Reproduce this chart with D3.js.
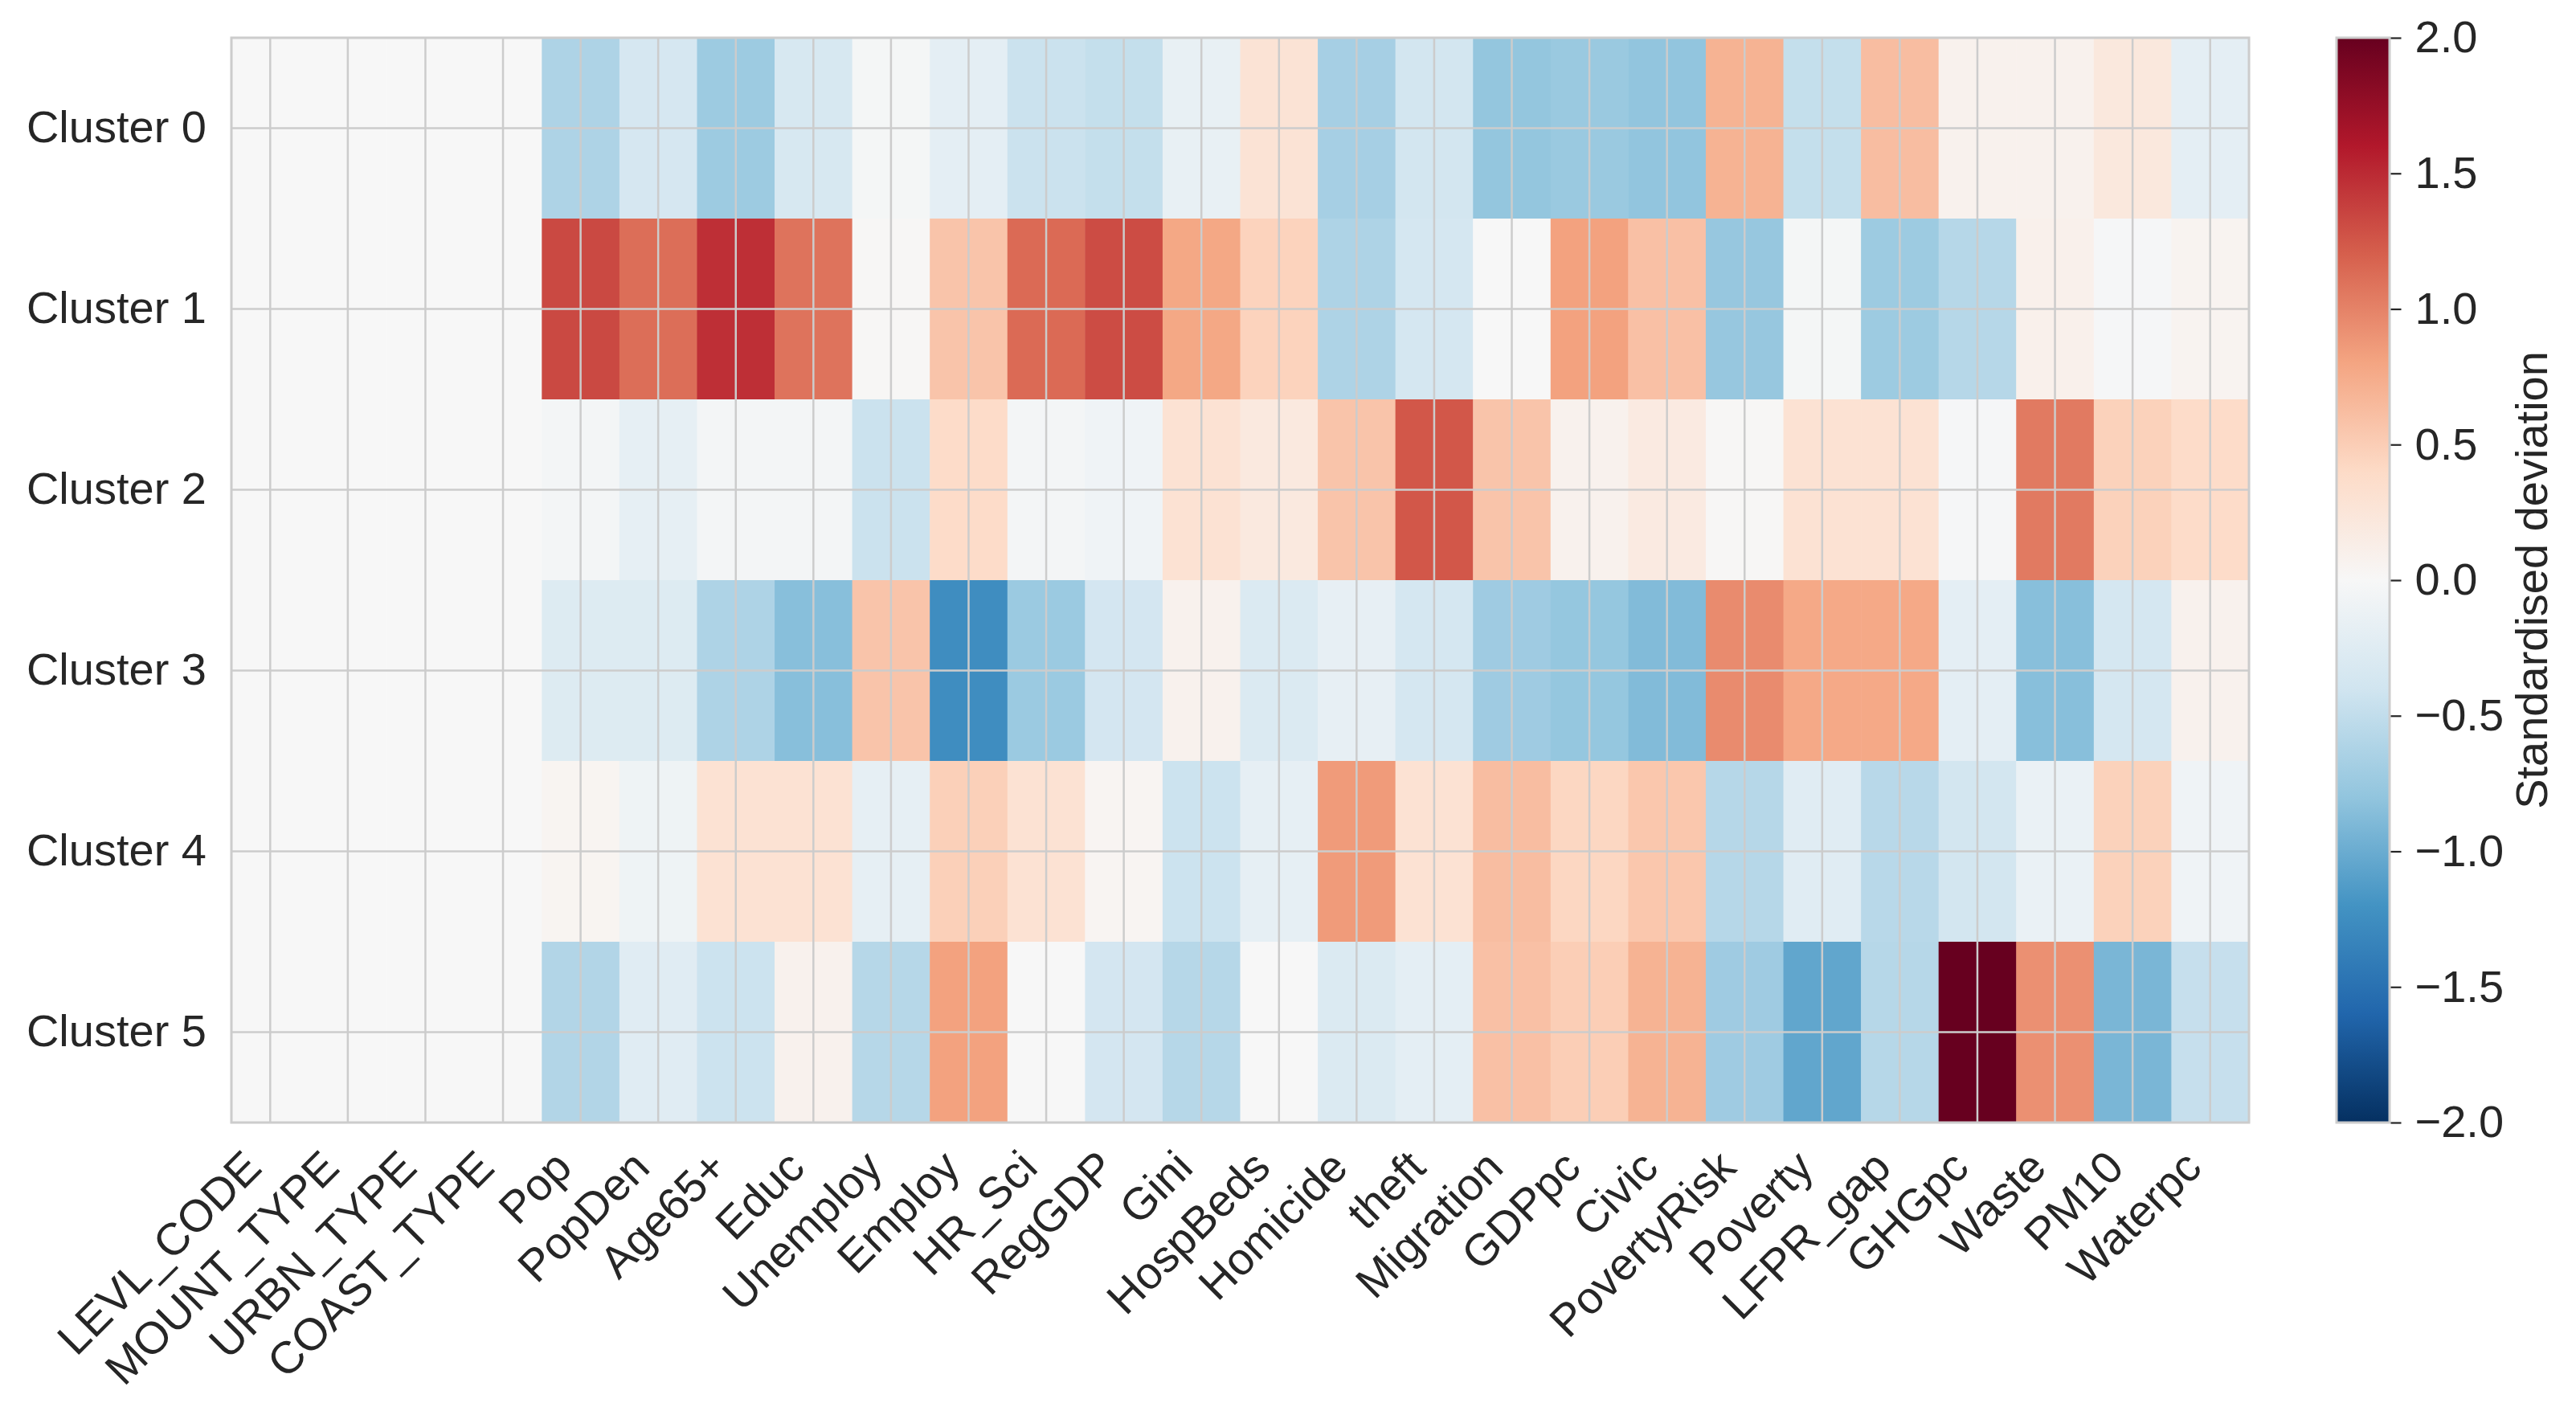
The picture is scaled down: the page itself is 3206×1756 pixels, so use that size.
<!DOCTYPE html>
<html>
<head>
<meta charset="utf-8">
<script src="https://cdn.jsdelivr.net/npm/d3@7"></script>
<style>
  body { margin: 0; background: #ffffff; }
  text { font-family: "Liberation Sans", Arial, sans-serif; fill: #262626; }
</style>
</head>
<body>
<script>
// chart data (standardised deviation of each feature per cluster)
var clusters = ["Cluster 0", "Cluster 1", "Cluster 2", "Cluster 3", "Cluster 4", "Cluster 5"];
var features = ["LEVL_CODE", "MOUNT_TYPE", "URBN_TYPE", "COAST_TYPE", "Pop", "PopDen", "Age65+", "Educ",
    "Unemploy", "Employ", "HR_Sci", "RegGDP", "Gini", "HospBeds", "Homicide", "theft", "Migration",
    "GDPpc", "Civic", "PovertyRisk", "Poverty", "LFPR_gap", "GHGpc", "Waste", "PM10", "Waterpc"];

var cluster0 = [0, 0, 0, 0, -0.62, -0.35, -0.73, -0.34, -0.03, -0.2, -0.44, -0.48, -0.16, 0.28, -0.67,
    -0.38, -0.79, -0.75, -0.8, 0.7, -0.48, 0.62, 0.08, 0.08, 0.22, -0.2];
var cluster1 = [0, 0, 0, 0, 1.33, 1.12, 1.47, 1.09, 0.02, 0.57, 1.14, 1.31, 0.78, 0.46, -0.62,
    -0.36, 0, 0.82, 0.6, -0.77, -0.03, -0.73, -0.57, 0.1, -0.02, 0.06];
var cluster2 = [0, 0, 0, 0, -0.04, -0.18, -0.04, -0.04, -0.44, 0.38, -0.04, -0.08, 0.3, 0.2, 0.57,
    1.25, 0.57, 0.08, 0.18, 0.02, 0.3, 0.3, -0.02, 1.05, 0.47, 0.38];
var cluster3 = [0, 0, 0, 0, -0.27, -0.27, -0.62, -0.85, 0.57, -1.25, -0.74, -0.37, 0.08, -0.3, -0.17,
    -0.36, -0.72, -0.78, -0.88, 0.95, 0.77, 0.77, -0.2, -0.85, -0.36, 0.08];
var cluster4 = [0, 0, 0, 0, 0.05, -0.1, 0.3, 0.3, -0.18, 0.48, 0.3, 0.04, -0.43, -0.18, 0.86,
    0.3, 0.62, 0.43, 0.55, -0.57, -0.24, -0.56, -0.38, -0.14, 0.47, -0.08];
var cluster5 = [0, 0, 0, 0, -0.6, -0.24, -0.43, 0.08, -0.57, 0.82, 0, -0.37, -0.57, 0, -0.3,
    -0.2, 0.6, 0.5, 0.7, -0.72, -1.05, -0.57, 2.3, 0.92, -0.92, -0.47];

var clusterValues = [cluster0, cluster1, cluster2, cluster3, cluster4, cluster5];
var colorbarTicks = [-2, -1.5, -1, -0.5, 0, 0.5, 1, 1.5, 2];

// RdBu_r palette stops
var paletteDomain = [-2, -1.6, -1.2, -0.8, -0.4, 0, 0.4, 0.8, 1.2, 1.6, 2];
var paletteColors = ["#053061", "#2166ac", "#4393c3", "#92c5de", "#d1e5f0", "#f7f7f7",
    "#fddbc7", "#f4a582", "#d6604d", "#b2182b", "#67001f"];

// define window size
var width = 3206,
    height = 1756;

var svg = d3.select("body")
    .append("svg")
    .attr("width", width)
    .attr("height", height);

// plot area edges
var plotLeft = 288, plotRight = 2799, plotTop = 47, plotBottom = 1397;

var x = d3.scaleBand().domain(features).range([plotLeft, plotRight]);
var y = d3.scaleBand().domain(clusters).range([plotTop, plotBottom]);

var color = d3.scaleLinear()
    .domain(paletteDomain)
    .range(paletteColors)
    .clamp(true);

// flatten rows into cells
var cells = [];
clusterValues.forEach(function(row, i){
    row.forEach(function(v, j){
        cells.push({cluster: clusters[i], feature: features[j], value: v});
    });
});

var cellGroup = svg.append("g");
cellGroup.selectAll("rect")
    .data(cells)
    .enter()
    .append("rect")
    .attr("x", function(d){ return x(d.feature); })
    .attr("y", function(d){ return y(d.cluster); })
    .attr("width", x.bandwidth() + 0.5)
    .attr("height", y.bandwidth() + 0.5)
    .attr("fill", function(d){ return color(d.value); });

// grid lines at tick centres (seaborn whitegrid look)
var grid = svg.append("g")
    .attr("stroke", "#cccccc")
    .attr("stroke-width", 2.5);

grid.selectAll("line.v")
    .data(features)
    .enter()
    .append("line")
    .attr("class", "v")
    .attr("x1", function(d){ return x(d) + x.bandwidth() / 2; })
    .attr("x2", function(d){ return x(d) + x.bandwidth() / 2; })
    .attr("y1", plotTop)
    .attr("y2", plotBottom);

grid.selectAll("line.h")
    .data(clusters)
    .enter()
    .append("line")
    .attr("class", "h")
    .attr("y1", function(d){ return y(d) + y.bandwidth() / 2; })
    .attr("y2", function(d){ return y(d) + y.bandwidth() / 2; })
    .attr("x1", plotLeft)
    .attr("x2", plotRight);

// frame
svg.append("rect")
    .attr("x", plotLeft)
    .attr("y", plotTop)
    .attr("width", plotRight - plotLeft)
    .attr("height", plotBottom - plotTop)
    .attr("fill", "none")
    .attr("stroke", "#cccccc")
    .attr("stroke-width", 3);

// y axis
var yAxis = svg.append("g")
    .attr("transform", "translate(" + plotLeft + ",0)")
    .call(d3.axisLeft(y).tickSize(0).tickPadding(31));
yAxis.select(".domain").remove();
yAxis.selectAll("text")
    .style("font-size", "56px")
    .style("font-family", "'Liberation Sans', Arial, sans-serif")
    .attr("fill", "#262626");

// x axis with rotated labels
var xAxis = svg.append("g")
    .attr("transform", "translate(0," + plotBottom + ")")
    .call(d3.axisBottom(x).tickSize(0));
xAxis.select(".domain").remove();
xAxis.selectAll("text")
    .attr("x", 0)
    .attr("y", 0)
    .attr("dy", 0)
    .attr("text-anchor", "end")
    .attr("transform", "translate(-8,59) rotate(-45)")
    .style("font-size", "56px")
    .style("font-family", "'Liberation Sans', Arial, sans-serif")
    .attr("fill", "#262626");

// colorbar
var cbLeft = 2908, cbWidth = 66;
var cy = d3.scaleLinear().domain([-2, 2]).range([plotBottom, plotTop]);

var grad = svg.append("defs")
    .append("linearGradient")
    .attr("id", "cbar")
    .attr("x1", 0).attr("y1", 1)
    .attr("x2", 0).attr("y2", 0);

grad.selectAll("stop")
    .data(paletteDomain)
    .enter()
    .append("stop")
    .attr("offset", function(d){ return (d + 2) / 4; })
    .attr("stop-color", function(d){ return color(d); });

svg.append("rect")
    .attr("x", cbLeft)
    .attr("y", plotTop)
    .attr("width", cbWidth)
    .attr("height", plotBottom - plotTop)
    .attr("fill", "url(#cbar)")
    .attr("stroke", "#cccccc")
    .attr("stroke-width", 3);

var cAxis = svg.append("g")
    .attr("transform", "translate(" + (cbLeft + cbWidth + 1.5) + ",0)")
    .call(d3.axisRight(cy).tickValues(colorbarTicks).tickFormat(d3.format(".1f")).tickSize(13).tickPadding(17));
cAxis.select(".domain").remove();
cAxis.selectAll("line")
    .attr("stroke", "#262626")
    .attr("stroke-width", 2.2);
cAxis.selectAll("text")
    .style("font-size", "56px")
    .style("font-family", "'Liberation Sans', Arial, sans-serif")
    .attr("fill", "#262626");

svg.append("text")
    .attr("transform", "translate(3150," + ((plotTop + plotBottom) / 2) + ") rotate(-90)")
    .attr("text-anchor", "middle")
    .attr("dy", "0.35em")
    .style("font-size", "56px")
    .text("Standardised deviation");
</script>
</body>
</html>
